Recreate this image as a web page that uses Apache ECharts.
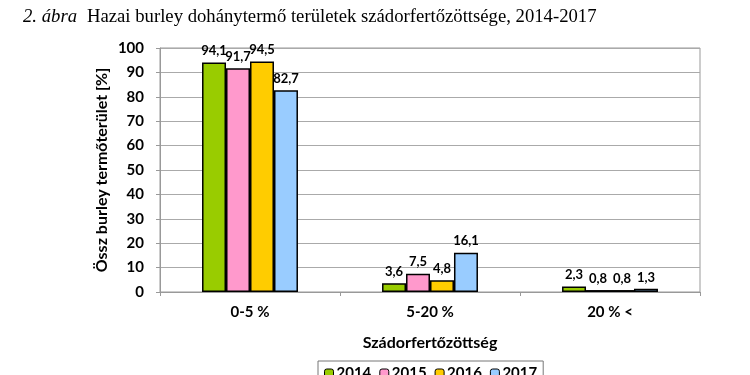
<!DOCTYPE html>
<html><head><meta charset="utf-8">
<script src="https://cdn.jsdelivr.net/npm/echarts@6/dist/echarts.min.js"></script>
<style>html,body{margin:0;padding:0;background:#fff}#c{width:750px;height:375px}</style>
</head><body><div id="c"></div>
<script>
const categories = ['0-5 %', '5-20 %', '20 % <'];
const years = ['2014', '2015', '2016', '2017'];
const v2014 = [94.1, 3.6, 2.3];
const v2015 = [91.7, 7.5, 0.8];
const v2016 = [94.5, 4.8, 0.8];
const v2017 = [82.7, 16.1, 1.3];
const yTicks = [0, 10, 20, 30, 40, 50, 60, 70, 80, 90, 100];
const colors = ['#99cc00', '#ff99cc', '#ffcc00', '#99ccff'];
const seriesValues = [v2014, v2015, v2016, v2017];

const font = 'Lato, "Noto Sans", sans-serif';
const chart = echarts.init(document.getElementById('c'));
chart.setOption({
  animation: false,
  title: {
    text: '{i|2. ábra}  {n|Hazai burley dohánytermő területek szádorfertőzöttsége, 2014-2017}',
    left: 18, top: 3,
    textStyle: {
      fontWeight: 'normal',
      rich: {
        i: {fontFamily: '"Liberation Serif", serif', fontStyle: 'italic', fontWeight: 'normal', fontSize: 18.7, color: '#000'},
        n: {fontFamily: '"Liberation Serif", serif', fontWeight: 'normal', fontSize: 18.7, color: '#000'}
      }
    }
  },
  grid: {left: 160, right: 50, top: 48, bottom: 83, show: true, borderColor: '#999', borderWidth: 1},
  legend: {
    data: years, bottom: -11, left: 318,
    itemWidth: 9, itemHeight: 9, itemGap: 8,
    borderColor: '#777', borderWidth: 1, padding: [5, 6, 5, 6],
    textStyle: {fontFamily: font, fontWeight: 'bold', fontSize: 15, color: '#000', padding: [0, 0, 0, -2]},
    itemStyle: {borderColor: '#000', borderWidth: 1}
  },
  xAxis: {
    type: 'category', data: categories,
    name: 'Szádorfertőzöttség', nameLocation: 'middle', nameGap: 43,
    nameTextStyle: {fontFamily: font, fontWeight: 'bold', fontSize: 16, color: '#000'},
    axisLine: {lineStyle: {color: '#999'}},
    axisTick: {show: true, length: 4, lineStyle: {color: '#999'}},
    axisLabel: {fontFamily: font, fontWeight: 'bold', fontSize: 15, color: '#000', margin: 13}
  },
  yAxis: {
    type: 'value', min: 0, max: 100, interval: 10,
    name: 'Össz burley termőterület [%]', nameLocation: 'middle', nameGap: 50, nameRotate: 90,
    nameMoveOverlap: false,
    nameTextStyle: {fontFamily: font, fontWeight: 'bold', fontSize: 16, color: '#000'},
    axisLine: {show: true, lineStyle: {color: '#999'}},
    axisTick: {show: true, length: 4, lineStyle: {color: '#999'}},
    splitLine: {lineStyle: {color: '#aaa'}},
    axisLabel: {fontFamily: font, fontWeight: 'bold', fontSize: 15, color: '#000', margin: 16,
      formatter: v => yTicks.includes(v) ? String(v) : ''}
  },
  series: years.map((y, i) => ({
    name: y, type: 'bar', data: seriesValues[i],
    barGap: '0%', barCategoryGap: '46.7%',
    itemStyle: {color: colors[i], borderColor: '#000', borderWidth: 1.5},
    label: {show: true, position: 'top', distance: 5, fontFamily: font, fontWeight: 'bold', fontSize: 13, color: '#000',
      formatter: p => String(p.value.toFixed(1)).replace('.', ',')}
  }))
});
</script></body></html>
